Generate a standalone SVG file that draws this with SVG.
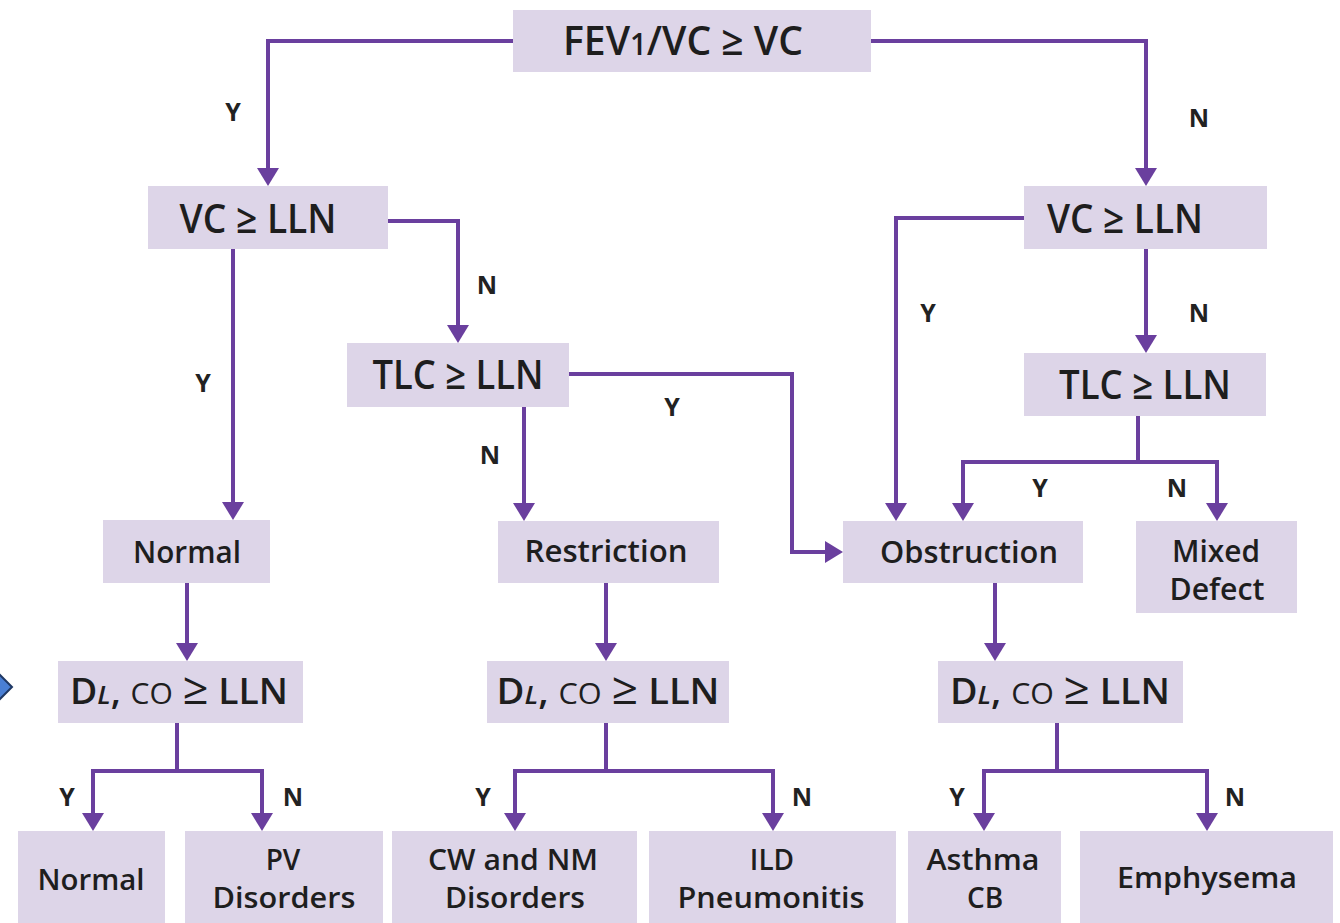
<svg xmlns="http://www.w3.org/2000/svg" width="1340" height="923" viewBox="0 0 1340 923">
<style>
.box{fill:#ddd5e8}
.t{font-family:"Open Sans","Liberation Sans",sans-serif;font-weight:600;fill:#1e1e1e;text-anchor:middle}
.big{font-size:40px}
.mid{font-size:36px}
.sm{font-size:31px}
.bt{font-size:28px}
.ge{font-size:44px;font-weight:400}
.lbl{font-family:"Open Sans","Liberation Sans",sans-serif;font-weight:700;font-size:25px;fill:#222;text-anchor:middle}
.c{fill:none;stroke:#6a3f9e;stroke-width:4;marker-end:url(#ah)}
</style>
<defs>
<marker id="ah" viewBox="0 0 18 22" markerWidth="18" markerHeight="22" refX="8" refY="11" orient="auto" markerUnits="userSpaceOnUse">
<path d="M0,0 L18,11 L0,22 z" fill="#6a3f9e"/>
</marker>
</defs>
<rect width="1340" height="923" fill="#ffffff"/>
<polygon points="-16,687 -2,673 12,687 -2,701" fill="#4a7fd4" stroke="#1f3864" stroke-width="2"/>

<g id="connectors">
<path class="c" d="M513,41 H268 V176"/>
<path class="c" d="M871,41 H1146 V176"/>
<path class="c" d="M388,221 H458 V333"/>
<path class="c" d="M233,249 V510"/>
<path class="c" d="M569,374 H792 V552 H833"/>
<path class="c" d="M524,407 V511"/>
<path class="c" d="M1024,218 H896 V511"/>
<path class="c" d="M1146,249 V343"/>
<path class="c" d="M1138,416 V462 H963 V511"/>
<path class="c" d="M1138,462 H1217 V511"/>
<path class="c" d="M187,583 V651"/>
<path class="c" d="M177,723 V771 H93 V821"/>
<path class="c" d="M177,771 H262 V821"/>
<path class="c" d="M606,583 V651"/>
<path class="c" d="M606,723 V771 H515 V821"/>
<path class="c" d="M606,771 H773 V821"/>
<path class="c" d="M995,583 V651"/>
<path class="c" d="M1057,723 V771 H984 V821"/>
<path class="c" d="M1057,771 H1207 V821"/>
</g>

<g id="labels">
<text class="lbl" x="233" y="121">Y</text>
<text class="lbl" x="1199" y="127">N</text>
<text class="lbl" x="487" y="294">N</text>
<text class="lbl" x="203" y="392">Y</text>
<text class="lbl" x="928" y="322">Y</text>
<text class="lbl" x="1199" y="322">N</text>
<text class="lbl" x="672" y="416">Y</text>
<text class="lbl" x="490" y="464">N</text>
<text class="lbl" x="1040" y="497">Y</text>
<text class="lbl" x="1177" y="497">N</text>
<text class="lbl" x="67" y="806">Y</text>
<text class="lbl" x="293" y="806">N</text>
<text class="lbl" x="483" y="806">Y</text>
<text class="lbl" x="802" y="806">N</text>
<text class="lbl" x="957" y="806">Y</text>
<text class="lbl" x="1235" y="806">N</text>
</g>

<g id="n-fev">
<rect class="box" x="513" y="10" width="358" height="62"/>
<text class="t big" x="683" y="55" textLength="240" lengthAdjust="spacingAndGlyphs">FEV<tspan font-size="30">1</tspan>/VC ≥ VC</text>
</g>
<g id="n-vc-left">
<rect class="box" x="148" y="186" width="240" height="63"/>
<text class="t big" x="258" y="233" textLength="157" lengthAdjust="spacingAndGlyphs">VC ≥ LLN</text>
</g>
<g id="n-vc-right">
<rect class="box" x="1024" y="186" width="243" height="63"/>
<text class="t big" x="1125" y="233" textLength="156" lengthAdjust="spacingAndGlyphs">VC ≥ LLN</text>
</g>
<g id="n-tlc-left">
<rect class="box" x="347" y="343" width="222" height="64"/>
<text class="t big" x="458" y="389" textLength="171" lengthAdjust="spacingAndGlyphs">TLC ≥ LLN</text>
</g>
<g id="n-tlc-right">
<rect class="box" x="1024" y="353" width="242" height="63"/>
<text class="t big" x="1145" y="399" textLength="172" lengthAdjust="spacingAndGlyphs">TLC ≥ LLN</text>
</g>
<g id="n-normal">
<rect class="box" x="103" y="520" width="167" height="63"/>
<text class="t sm" x="187" y="563" textLength="108" lengthAdjust="spacingAndGlyphs">Normal</text>
</g>
<g id="n-restriction">
<rect class="box" x="498" y="521" width="221" height="62"/>
<text class="t sm" x="606" y="562" textLength="163" lengthAdjust="spacingAndGlyphs">Restriction</text>
</g>
<g id="n-obstruction">
<rect class="box" x="843" y="521" width="240" height="62"/>
<text class="t sm" x="969" y="563" textLength="178" lengthAdjust="spacingAndGlyphs">Obstruction</text>
</g>
<g id="n-mixed">
<rect class="box" x="1136" y="521" width="161" height="92"/>
<text class="t sm" x="1216" y="562" textLength="88" lengthAdjust="spacingAndGlyphs">Mixed</text>
<text class="t sm" x="1217" y="600" textLength="95" lengthAdjust="spacingAndGlyphs">Defect</text>
</g>
<g id="n-dl-left">
<rect class="box" x="58" y="661" width="245" height="62"/>
<text class="t mid" x="179" y="704" textLength="218" lengthAdjust="spacingAndGlyphs">D<tspan font-style="italic" font-size="26">L</tspan>, <tspan font-size="29" font-weight="400">CO</tspan> <tspan class="ge">≥</tspan>  LLN</text>
</g>
<g id="n-dl-mid">
<rect class="box" x="487" y="661" width="242" height="62"/>
<text class="t mid" x="608" y="704" textLength="223" lengthAdjust="spacingAndGlyphs">D<tspan font-style="italic" font-size="26">L</tspan>, <tspan font-size="29" font-weight="400">CO</tspan> <tspan class="ge">≥</tspan>  LLN</text>
</g>
<g id="n-dl-right">
<rect class="box" x="938" y="661" width="245" height="62"/>
<text class="t mid" x="1060" y="704" textLength="220" lengthAdjust="spacingAndGlyphs">D<tspan font-style="italic" font-size="26">L</tspan>, <tspan font-size="29" font-weight="400">CO</tspan> <tspan class="ge">≥</tspan>  LLN</text>
</g>
<g id="n-out-normal">
<rect class="box" x="18" y="831" width="147" height="100"/>
<text class="t bt" x="91" y="890" textLength="107" lengthAdjust="spacingAndGlyphs">Normal</text>
</g>
<g id="n-pv">
<rect class="box" x="185" y="831" width="198" height="100"/>
<text class="t bt" x="283" y="870">PV</text>
<text class="t bt" x="284" y="908" textLength="143" lengthAdjust="spacingAndGlyphs">Disorders</text>
</g>
<g id="n-cw">
<rect class="box" x="392" y="831" width="245" height="100"/>
<text class="t bt" x="513" y="870" textLength="170" lengthAdjust="spacingAndGlyphs">CW and NM</text>
<text class="t bt" x="515" y="908" textLength="140" lengthAdjust="spacingAndGlyphs">Disorders</text>
</g>
<g id="n-ild">
<rect class="box" x="649" y="831" width="247" height="100"/>
<text class="t bt" x="772" y="870">ILD</text>
<text class="t bt" x="771" y="908" textLength="187" lengthAdjust="spacingAndGlyphs">Pneumonitis</text>
</g>
<g id="n-asthma">
<rect class="box" x="908" y="831" width="153" height="100"/>
<text class="t bt" x="983" y="870" textLength="113" lengthAdjust="spacingAndGlyphs">Asthma</text>
<text class="t bt" x="985" y="908">CB</text>
</g>
<g id="n-emphysema">
<rect class="box" x="1080" y="831" width="253" height="100"/>
<text class="t bt" x="1207" y="888" textLength="180" lengthAdjust="spacingAndGlyphs">Emphysema</text>
</g>
</svg>
